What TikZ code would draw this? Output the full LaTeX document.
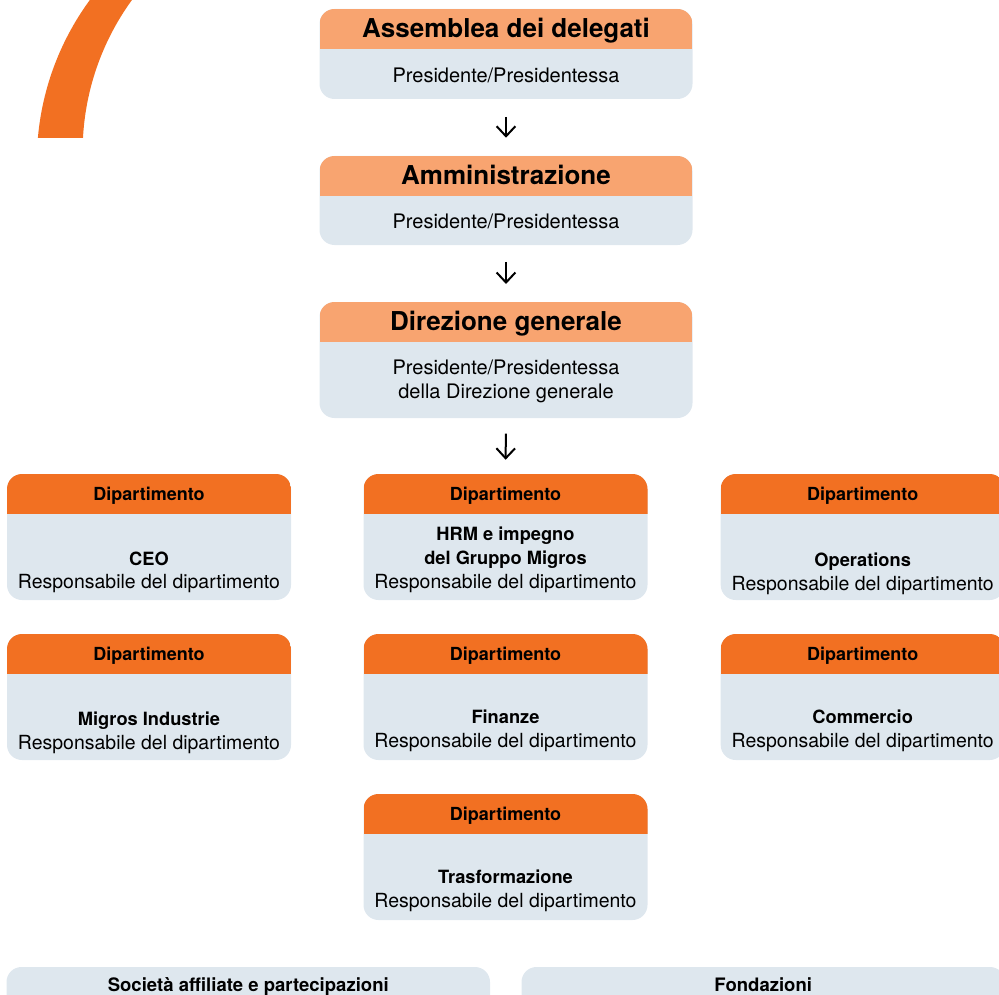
\documentclass[tikz,border=0pt]{standalone}
\usepackage{fontspec}
\setmainfont{TeX Gyre Heros}
\usetikzlibrary{arrows.meta,calc}
\definecolor{morange}{RGB}{242,112,34}
\definecolor{lorange}{RGB}{248,164,112}
\definecolor{pale}{RGB}{222,231,238}
\tikzset{
  card/.style 2 args={rectangle, rounded corners=11.25pt, fill=pale, inner sep=0pt,
    minimum width=#1*0.75pt, minimum height=#2*0.75pt},
  hdr/.style={path picture={\fill[#1, sharp corners] (path picture bounding box.north west)
    rectangle ([yshift=-30pt]path picture bounding box.north east);}},
  ttl/.style={font=\fontsize{19.5}{23}\selectfont\bfseries, inner sep=0pt, anchor=base},
  ptx/.style={font=\fontsize{15}{18}\selectfont, inner sep=0pt, anchor=base},
  dhd/.style={font=\fontsize{13.5}{16}\selectfont\bfseries, inner sep=0pt, anchor=base},
  bhd/.style={font=\fontsize{13.9}{16}\selectfont\bfseries, inner sep=0pt, anchor=base},
  dnm/.style={font=\fontsize{13.7}{16}\selectfont\bfseries, inner sep=0pt, anchor=base},
  dtx/.style={font=\fontsize{14.6}{18}\selectfont, inner sep=0pt, anchor=base},
  arr/.style={line width=1.5pt, -{Straight Barb[length=7.5pt, width=14pt]}},
}
\begin{document}
\begin{tikzpicture}[x=0.75pt,y=0.75pt]
\useasboundingbox (0,0) rectangle (999,-995);
\clip (0,0) rectangle (999,-995);
% decorative arc
\begin{scope}
  \clip (0,0) rectangle (200,-138);
  \fill[morange, even odd rule] (311.8,-162.4) circle[radius=275] (341.6,-152.1) circle[radius=259];
\end{scope}
% top boxes
\node[card={373}{90}, hdr=lorange] (asm) at (506,-54) {};
\node[ttl] (asmT) at (506,-37.7) {Assemblea dei delegati};
\node[ptx] (asmP) at (506,-82.7) {Presidente/Presidentessa};

\node[card={373}{89}, hdr=lorange] (amm) at (506,-200.5) {};
\node[ttl] (ammT) at (506,-184.5) {Amministrazione};
\node[ptx] (ammP) at (506,-228.7) {Presidente/Presidentessa};

\node[card={373}{116}, hdr=lorange] (dir) at (506,-360) {};
\node[ttl] (dirT) at (506,-330.5) {Direzione generale};
\node[ptx] (dirP1) at (506,-374.5) {Presidente/Presidentessa};
\node[ptx] (dirP2) at (506,-398.5) {della Direzione generale};

% departments row 1
\node[card={284}{126}, hdr=morange] (ceo) at (149,-537) {};
\node[dhd] (ceoH) at (149,-500) {Dipartimento};
\node[dnm] (ceoN) at (149,-565) {CEO};
\node[dtx] (ceoR) at (149,-588.3) {Responsabile del dipartimento};

\node[card={284}{126}, hdr=morange] (hrm) at (505.5,-537) {};
\node[dhd] (hrmH) at (505.5,-500) {Dipartimento};
\node[dnm] (hrmN1) at (505.5,-540.5) {HRM e impegno};
\node[dnm] (hrmN2) at (505.5,-564.5) {del Gruppo Migros};
\node[dtx] (hrmR) at (505.5,-588) {Responsabile del dipartimento};

\node[card={284}{126}, hdr=morange] (ops) at (862.7,-537) {};
\node[dhd] (opsH) at (862.7,-500) {Dipartimento};
\node[dnm] (opsN) at (862.7,-566.5) {Operations};
\node[dtx] (opsR) at (862.7,-590) {Responsabile del dipartimento};

% departments row 2
\node[card={284}{126}, hdr=morange] (mig) at (149,-697) {};
\node[dhd] (migH) at (149,-660) {Dipartimento};
\node[dnm] (migN) at (149,-725) {Migros Industrie};
\node[dtx] (migR) at (149,-749) {Responsabile del dipartimento};

\node[card={284}{126}, hdr=morange] (fin) at (505.5,-697) {};
\node[dhd] (finH) at (505.5,-660) {Dipartimento};
\node[dnm] (finN) at (505.5,-723.5) {Finanze};
\node[dtx] (finR) at (505.5,-747.5) {Responsabile del dipartimento};

\node[card={284}{126}, hdr=morange] (com) at (862.7,-697) {};
\node[dhd] (comH) at (862.7,-660) {Dipartimento};
\node[dnm] (comN) at (862.7,-723.5) {Commercio};
\node[dtx] (comR) at (862.7,-747.5) {Responsabile del dipartimento};

% department row 3
\node[card={284}{126}, hdr=morange] (tra) at (505.5,-857) {};
\node[dhd] (traH) at (505.5,-820) {Dipartimento};
\node[dnm] (traN) at (505.5,-883.5) {Trasformazione};
\node[dtx] (traR) at (505.5,-907.5) {Responsabile del dipartimento};

% bottom boxes
\node[card={483.5}{60}] (soc) at (248.25,-997) {};
\node[bhd] (socT) at (248.25,-991.5) {Società affiliate e partecipazioni};
\node[card={483.5}{60}] (fon) at (763.25,-997) {};
\node[bhd] (fonT) at (763.25,-991.5) {Fondazioni};

% arrows
\draw[arr, shorten <=13.3pt, shorten >=13.5pt] (asm.south) -- (amm.north);
\draw[arr, shorten <=12.5pt, shorten >=13.3pt] (amm.south) -- (dir.north);
\draw[arr, shorten <=11.5pt, shorten >=10.5pt] (dir.south) -- (hrm.north);
\end{tikzpicture}
\end{document}
